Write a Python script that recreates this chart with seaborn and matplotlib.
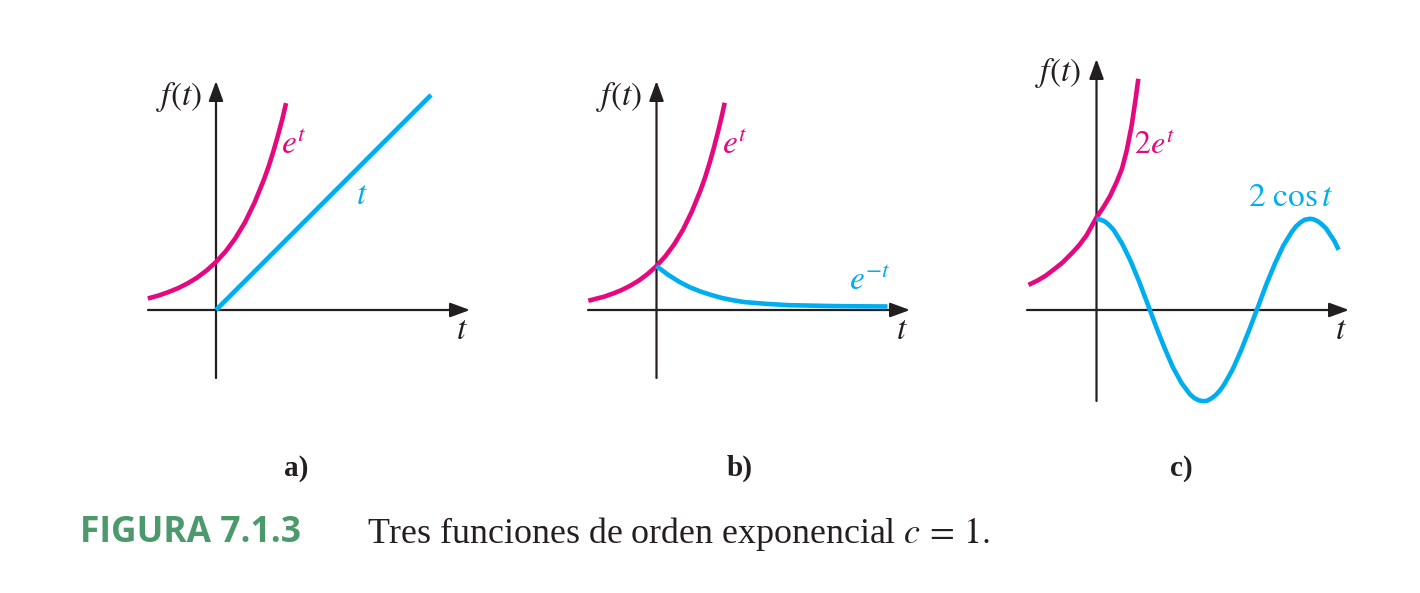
import matplotlib
matplotlib.use("Agg")
import matplotlib.pyplot as plt
import seaborn as sns
import pandas as pd

# ---------------- data ----------------
# panel a
a_exp_t = [-1.42, -1.2, -1.0, -0.8, -0.6, -0.4, -0.2, 0.0, 0.2, 0.4, 0.6, 0.8, 1.0, 1.1, 1.2, 1.3, 1.38, 1.46]
a_exp_y = [0.24, 0.30, 0.37, 0.45, 0.55, 0.67, 0.82, 1.00, 1.22, 1.49, 1.82, 2.23, 2.72, 3.00, 3.32, 3.67, 3.97, 4.31]
a_lin_t = [0.0, 4.48]
a_lin_y = [0.0, 4.48]

# panel b
b_exp_t = [-1.55, -1.4, -1.2, -1.0, -0.8, -0.6, -0.4, -0.2, 0.0, 0.2, 0.4, 0.6, 0.8, 1.0, 1.1, 1.2, 1.3, 1.4, 1.48, 1.55]
b_exp_y = [0.21, 0.25, 0.30, 0.37, 0.45, 0.55, 0.67, 0.82, 1.00, 1.22, 1.49, 1.82, 2.23, 2.72, 3.00, 3.32, 3.67, 4.06, 4.39, 4.71]
b_dec_t = [0.0, 0.25, 0.5, 0.75, 1.0, 1.25, 1.5, 1.75, 2.0, 2.5, 3.0, 3.5, 4.0, 4.5, 5.25]
b_dec_y = [1.00, 0.81, 0.65, 0.52, 0.42, 0.34, 0.27, 0.22, 0.18, 0.14, 0.11, 0.10, 0.09, 0.085, 0.08]

# panel c
c_exp_t = [-2.0, -1.75, -1.5, -1.27, -1.0, -0.68, -0.5, -0.29, 0.0, 0.2, 0.4, 0.6, 0.75, 0.89, 1.035, 1.16, 1.23]
c_exp_y = [0.55, 0.64, 0.75, 0.88, 1.04, 1.28, 1.43, 1.64, 2.03, 2.25, 2.50, 2.82, 3.10, 3.50, 4.05, 4.68, 5.07]
c_cos_t = [0.0, 0.125, 0.25, 0.375, 0.5, 0.75, 1.0, 1.25, 1.5, 1.75, 2.0, 2.25, 2.5, 2.75, 2.875, 3.0,
           3.14, 3.25, 3.375, 3.5, 3.625, 3.75, 4.0, 4.25, 4.5, 4.75, 5.0, 5.25, 5.5, 5.75, 5.875,
           6.0, 6.125, 6.28, 6.375, 6.5, 6.625, 6.75, 6.875, 7.0, 7.12]
c_cos_y = [2.00, 1.98, 1.94, 1.86, 1.76, 1.46, 1.08, 0.63, 0.14, -0.36, -0.83, -1.26, -1.60, -1.85, -1.93, -1.98,
           -2.00, -1.99, -1.94, -1.87, -1.77, -1.64, -1.31, -0.89, -0.42, 0.07, 0.57, 1.02, 1.42, 1.72, 1.84,
           1.92, 1.98, 2.00, 1.99, 1.95, 1.88, 1.79, 1.65, 1.51, 1.32]

panel_letters = ["a)", "b)", "c)"]
curve_labels = [[r"$e^t$", r"$t$"], [r"$e^t$", r"$e^{-t}$"], [r"$2e^t$", r"$2\ \cos t$"]]
caption_tag = "FIGURA 7.1.3"
caption_text = "Tres funciones de orden exponencial "

# ---------------- style ----------------
sns.set_theme(style="white")
plt.rcParams["font.family"] = ["Liberation Serif", "DejaVu Serif"]
plt.rcParams["mathtext.fontset"] = "stix"

MAG = "#E5097F"
CYA = "#00AEEF"
INK = "#231F20"
W, H = 1420, 593

fig = plt.figure(figsize=(W / 100, H / 100), dpi=100)
fig.patch.set_facecolor("white")


def fx(px):
    return px / W


def fy(py):
    return 1 - py / H


def make_axes(origin, ux, uy, box, xaxis_px, yaxis_px):
    ox, oy = origin
    l, t, r, b = box
    ax = fig.add_axes([fx(l), fy(b), fx(r - l), (b - t) / H])
    ax.set_xlim((l - ox) / ux, (r - ox) / ux)
    ax.set_ylim((oy - b) / uy, (oy - t) / uy)
    ax.set_axis_off()
    arrow = dict(arrowstyle="-|>,head_length=0.6,head_width=0.22", lw=1.6, color=INK,
                 mutation_scale=20, shrinkA=0, shrinkB=0)
    ax.annotate("", xy=((xaxis_px[1] - ox) / ux, 0), xytext=((xaxis_px[0] - ox) / ux, 0),
                arrowprops=arrow, zorder=1)
    ax.annotate("", xy=(0, (oy - yaxis_px[1]) / uy), xytext=(0, (oy - yaxis_px[0]) / uy),
                arrowprops=arrow, zorder=1)
    return ax


def curve(ax, xs, ys, color):
    df = pd.DataFrame({"t": xs, "f": ys})
    sns.lineplot(data=df, x="t", y="f", ax=ax, color=color, linewidth=3.3,
                 estimator=None, sort=False, legend=False, zorder=3,
                 solid_capstyle="butt", solid_joinstyle="round")
    ax.set_axis_off()


axA = make_axes((216, 310), 48, 48, (130, 55, 490, 395), (148, 470), (378, 81))
curve(axA, a_exp_t, a_exp_y, MAG)
curve(axA, a_lin_t, a_lin_y, CYA)

axB = make_axes((656.5, 310), 44, 44, (570, 55, 930, 395), (588, 910), (378, 81))
curve(axB, b_exp_t, b_exp_y, MAG)
curve(axB, b_dec_t, b_dec_y, CYA)

axC = make_axes((1096.5, 310), 34, 45.6, (1010, 40, 1370, 415), (1027, 1349), (401, 59))
curve(axC, c_exp_t, c_exp_y, MAG)
curve(axC, c_cos_t, c_cos_y, CYA)

FS = 24


def txt(px, py, s, **kw):
    fig.text(fx(px), fy(py), s, **kw)


# axis labels
for (x0, y0) in [(179, 97), (619, 97), (1058, 73)]:
    txt(x0, y0, r"$f(t)$", fontsize=FS, ha="center", va="center", color=INK)
for x0 in [462, 902, 1341]:
    txt(x0, 331, r"$t$", fontsize=FS, ha="center", va="center", color=INK)

# curve labels
txt(294, 146, curve_labels[0][0], fontsize=FS, ha="center", va="center", color=MAG)
txt(362, 196, curve_labels[0][1], fontsize=FS, ha="center", va="center", color=CYA)
txt(735, 146, curve_labels[1][0], fontsize=FS, ha="center", va="center", color=MAG)
txt(870, 282, curve_labels[1][1], fontsize=FS, ha="center", va="center", color=CYA)
txt(1134, 146, curve_labels[2][0], fontsize=23, ha="left", va="center", color=MAG)
txt(1291, 198, curve_labels[2][1], fontsize=FS, ha="center", va="center", color=CYA)

# panel letters
for x0, s in zip([296, 740, 1181], panel_letters):
    txt(x0, 468, s, fontsize=21, fontweight="bold", ha="center", va="center", color=INK)

# caption
txt(80, 533, caption_tag, fontsize=25.5, fontweight="bold", ha="left", va="center",
    color="#4C9A6C", family=["Open Sans", "Liberation Sans", "DejaVu Sans"])
txt(367, 534, caption_text + r"$c\,=\,1.$", fontsize=25.8, ha="left", va="center", color=INK)

fig.savefig("out.png", dpi=100, facecolor="white")
